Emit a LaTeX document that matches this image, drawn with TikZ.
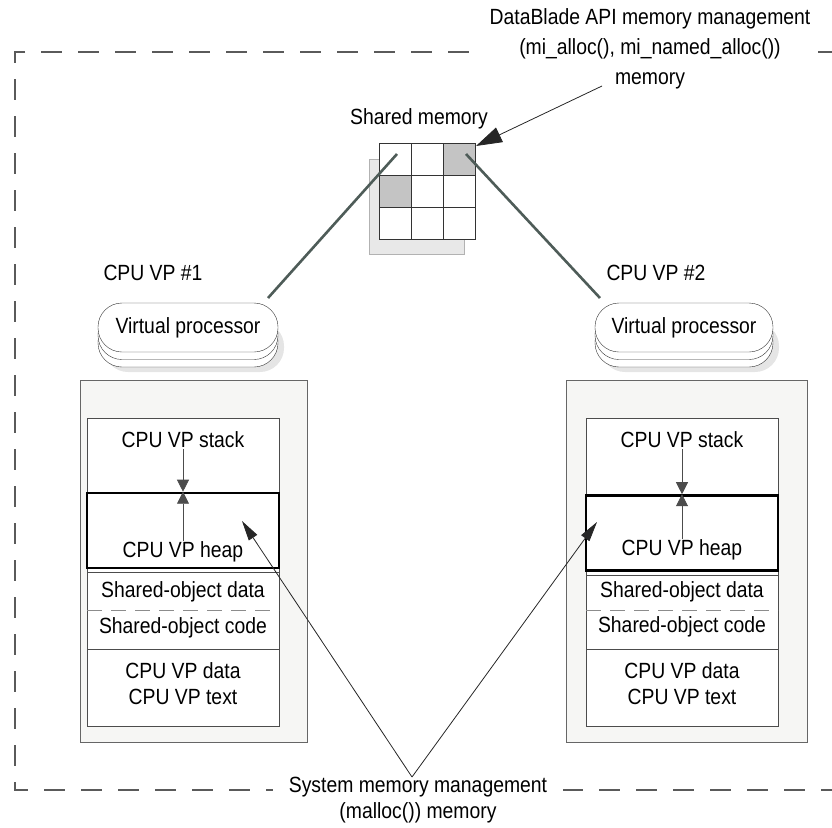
\documentclass[tikz,border=0pt]{standalone}
\usepackage{fontspec}
\setmainfont{Liberation Sans}[FakeStretch=0.88]
\usetikzlibrary{arrows.meta, positioning, calc}
\definecolor{frameGray}{HTML}{5A5A5A}
\definecolor{linkGray}{HTML}{4E5C58}
\definecolor{cellGray}{HTML}{C4C4C4}
\definecolor{boxFill}{HTML}{F6F6F4}

\tikzset{
  txt/.style={inner sep=1pt, align=center},
  frame/.style={draw=frameGray, line width=1.4pt, dash pattern=on 21pt off 16pt},
  vpcap/.style={draw=black!80, fill=white, rounded corners=24pt, minimum width=180pt, minimum height=49pt, inner sep=0pt},
  heapbox/.style={draw=black, line width=2.6pt, minimum width=192pt, minimum height=75pt, inner sep=0pt},
  link/.style={draw=linkGray, line width=2.6pt},
  growth/.style={draw=black!70, line width=0.8pt, -{Triangle[length=12pt, width=12pt]}},
  pointer/.style={draw=black!85, line width=0.8pt, -{Triangle[length=20pt, width=10pt]}},
}

\begin{document}
\begin{tikzpicture}[x=1pt, y=-1pt, font=\fontsize{22}{26}\selectfont]
\useasboundingbox (0,0) rectangle (832,827);

% --- dashed frame ---
\draw[frame] (25,52) -- (15,52) -- (15,790) -- (832,790);
\draw[frame, dash phase=21pt] (25,52) -- (832,52);

% --- Shared memory ---
\draw[gray!60, fill=black!9] (369,159) rectangle (464,254);
\foreach \r in {0,1,2}
  \foreach \c in {0,1,2}
    \draw[black!80, fill=white] (379+32*\c,143+32*\r) rectangle +(32,32);
\fill[cellGray] (443,143) rectangle +(32,32);
\fill[cellGray] (379,175) rectangle +(32,32);
\foreach \r in {0,1,2}
  \foreach \c in {0,1,2}
    \draw[black!80] (379+32*\c,143+32*\r) rectangle +(32,32);
\node[txt] (shmlabel) at (419,119) {Shared memory};
\coordinate (sm1) at (397,154);
\coordinate (sm2) at (466,154);
\coordinate (smtip) at (476,146);

% --- DataBlade label ---
\node[txt, fill=white, inner xsep=6pt, font=\fontsize{22}{30}\selectfont] (dblabel) at (650,49)
  {DataBlade API memory management\\(mi\_alloc(), mi\_named\_alloc())\\memory};
\coordinate (dbtail) at (602,86);
\draw[draw=black!85, line width=0.8pt, -{Triangle[length=26pt, width=16pt]}] (dbtail) -- (smtip);

% --- CPU VP #1 ---
\node[txt] (vplabel1) at (153,273) {CPU VP \#1};
\fill[black!10, rounded corners=24pt] (104,322) rectangle (284,372);
\draw[fill=white, draw=black!80, rounded corners=24pt] (98,318) rectangle (278,367);
\draw[fill=white, draw=black!80, rounded corners=24pt] (98,310.5) rectangle (278,359.5);
\node[vpcap] (vp1) at (188,327.5) {Virtual processor};
\coordinate (vptop1) at (268,298);
\draw[link] (sm1) -- (vptop1);

\draw[draw=black!60, fill=boxFill, line width=1pt] (80,380) rectangle (307,742);
\draw[draw=black!70, fill=white] (87,418) rectangle (279,726);
\node[heapbox] (heap1) at (183,530.5) {};
\draw[black!70] (87,572) -- (279,572);
\draw[black!45, dash pattern=on 15pt off 9pt] (87,610) -- (279,610);
\draw[black!70] (87,649) -- (279,649);
\node[txt] (stack1) at (183,440) {CPU VP stack};
\node[txt] (heaplbl1) at (183,552) {CPU VP heap};
\node[txt] (sodata1) at (183,592) {Shared-object data};
\node[txt] (socode1) at (183,628) {Shared-object code};
\node[txt] (text1) at (183,684) {CPU VP data\\CPU VP text};
\draw[growth] (stack1.south) -- (heap1.north);
\draw[growth] (heaplbl1.north) -- (heap1.north);
\coordinate (heaptip1) at (242,521);

% --- CPU VP #2 ---
\node[txt] (vplabel2) at (656,273) {CPU VP \#2};
\fill[black!10, rounded corners=24pt] (601,322) rectangle (779,372);
\draw[fill=white, draw=black!80, rounded corners=24pt] (595,318) rectangle (773,367);
\draw[fill=white, draw=black!80, rounded corners=24pt] (595,310.5) rectangle (773,359.5);
\node[vpcap, minimum width=178pt] (vp2) at (684,327.5) {Virtual processor};
\coordinate (vptop2) at (600,298);
\draw[link] (sm2) -- (vptop2);

\draw[draw=black!60, fill=boxFill, line width=1pt] (566,380) rectangle (807,742);
\draw[draw=black!70, fill=white] (586,418) rectangle (778,726);
\node[heapbox] (heap2) at (682,533) {};
\draw[black!70] (586,575) -- (778,575);
\draw[black!45, dash pattern=on 15pt off 9pt] (586,610) -- (778,610);
\draw[black!70] (586,649) -- (778,649);
\node[txt] (stack2) at (682,440) {CPU VP stack};
\node[txt] (heaplbl2) at (682,550) {CPU VP heap};
\node[txt] (sodata2) at (682,592) {Shared-object data};
\node[txt] (socode2) at (682,627) {Shared-object code};
\node[txt] (text2) at (682,684) {CPU VP data\\CPU VP text};
\draw[growth] (stack2.south) -- (heap2.north);
\draw[growth] (heaplbl2.north) -- (heap2.north);
\coordinate (heaptip2) at (597,522);

% --- System memory label ---
\node[txt, fill=white, inner xsep=16pt] (syslabel) at (418,800)
  {System memory management\\(malloc()) memory};
\coordinate (sysapex) at (412,777);
\draw[pointer] (sysapex) -- (heaptip1);
\draw[pointer] (sysapex) -- (heaptip2);
\end{tikzpicture}
\end{document}
